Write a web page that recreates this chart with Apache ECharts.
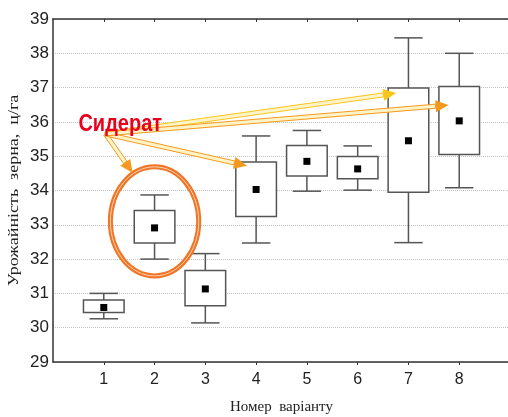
<!DOCTYPE html>
<html>
<head>
<meta charset="utf-8">
<script src="https://cdn.jsdelivr.net/npm/echarts@6/dist/echarts.min.js"></script>
<style>
html, body { margin: 0; padding: 0; background: #fff; }
#chart { width: 508px; height: 417px; }
</style>
</head>
<body>
<div id="chart"></div>
<script>
// номер варіанту та статистики урожайності, ц/га
const variants = [1, 2, 3, 4, 5, 6, 7, 8];
const whiskerLow = [30.26, 32.0, 30.14, 32.47, 33.98, 34.01, 32.48, 34.08];
const boxLow = [30.44, 32.47, 30.64, 33.24, 34.42, 34.34, 33.95, 35.05];
const means = [30.59, 32.91, 31.13, 34.03, 34.85, 34.63, 35.45, 36.03];
const boxHigh = [30.81, 33.42, 31.67, 34.83, 35.31, 34.99, 36.99, 37.03];
const whiskerHigh = [31.0, 33.87, 32.16, 35.59, 35.75, 35.30, 38.45, 38.0];

// підпис "Сидерат" і стрілки (в координатах даних)
const labelText = 'Сидерат';
const labelAt = [0.5, 36.25];
const arrowFrom = [1.03, 35.65];
const arrowTo = [[1.57, 34.51], [3.82, 34.72], [6.76, 36.84], [7.79, 36.49]];
const ellipseAt = [2.0, 33.10];
const yName = 'Урожайність  зерна,  ц/га';

const arrowColors = ['#f39a1e', '#f39a1e', '#f8c51a', '#f39a1e'];

const chart = echarts.init(document.getElementById('chart'));

const boxData = variants.map((v, i) => [v, whiskerLow[i], boxLow[i], means[i], boxHigh[i], whiskerHigh[i]]);

function renderBox(params, api) {
  const x = api.value(0);
  const pWl = api.coord([x, api.value(1)]);
  const pBl = api.coord([x, api.value(2)]);
  const pM = api.coord([x, api.value(3)]);
  const pBh = api.coord([x, api.value(4)]);
  const pWh = api.coord([x, api.value(5)]);
  const half = api.size([0.8, 0])[0] / 2;
  const cap = api.size([0.56, 0])[0] / 2;
  const line = { stroke: '#555', lineWidth: 1.5 };
  return {
    type: 'group',
    children: [
      { type: 'line', shape: { x1: pWh[0], y1: pWh[1], x2: pBh[0], y2: pBh[1] }, style: line },
      { type: 'line', shape: { x1: pBl[0], y1: pBl[1], x2: pWl[0], y2: pWl[1] }, style: line },
      { type: 'line', shape: { x1: pWh[0] - cap, y1: pWh[1], x2: pWh[0] + cap, y2: pWh[1] }, style: line },
      { type: 'line', shape: { x1: pWl[0] - cap, y1: pWl[1], x2: pWl[0] + cap, y2: pWl[1] }, style: line },
      { type: 'rect', shape: { x: pBh[0] - half, y: pBh[1], width: half * 2, height: pBl[1] - pBh[1] },
        style: { fill: '#fff', stroke: '#555', lineWidth: 1.5 } },
      { type: 'rect', shape: { x: pM[0] - 3.5, y: pM[1] - 3.5, width: 7, height: 7 }, style: { fill: '#000' } }
    ]
  };
}

const option = {
  animation: false,
  grid: { left: 53, top: 19, bottom: 55, width: 457, outerBoundsMode: 'none', containLabel: false },
  xAxis: [{
    type: 'value',
    min: 0, max: 9, interval: 1,
    name: 'Номер  варіанту',
    nameLocation: 'middle',
    nameGap: 38,
    nameTextStyle: { fontFamily: 'Liberation Serif', fontSize: 15, color: '#222' },
    axisLine: { show: true, lineStyle: { color: '#333', width: 1.5 } },
    axisTick: { show: true, length: 3, lineStyle: { color: '#333' }, customValues: variants },
    axisLabel: { fontFamily: 'Liberation Sans', fontSize: 16, color: '#222', margin: 10, customValues: variants },
    splitLine: { show: false }
  }, {
    type: 'value',
    position: 'top',
    min: 0, max: 9, interval: 1,
    axisLine: { show: true, lineStyle: { color: '#333', width: 1.5 } },
    axisTick: { show: true, inside: true, length: 3, lineStyle: { color: '#333' }, customValues: variants },
    axisLabel: { show: false },
    splitLine: { show: false }
  }],
  yAxis: {
    type: 'value',
    min: 29, max: 39, interval: 1,
    axisLine: { show: true, lineStyle: { color: '#333', width: 1.5 } },
    axisTick: { show: false },
    axisLabel: { fontFamily: 'Liberation Sans', fontSize: 17, color: '#222', margin: 4 },
    splitLine: { show: true, lineStyle: { color: '#c4c4c4', type: 'dotted', width: 1 } }
  },
  series: [{
    type: 'custom',
    renderItem: renderBox,
    data: boxData,
    encode: { x: 0, y: [1, 2, 3, 4, 5] }
  }]
};

chart.setOption(option);

// стрілка з подвійним контуром
function arrow(p0, p1, color) {
  const dx = p1[0] - p0[0], dy = p1[1] - p0[1];
  const len = Math.sqrt(dx * dx + dy * dy);
  const ux = dx / len, uy = dy / len, nx = -uy, ny = ux;
  const headL = 13, headW = 6, w = 2;
  const bx = p1[0] - ux * headL, by = p1[1] - uy * headL;
  return [{
    type: 'polygon', z: 10,
    shape: { points: [[p0[0] + nx * w, p0[1] + ny * w], [bx + nx * w, by + ny * w], [bx - nx * w, by - ny * w], [p0[0] - nx * w, p0[1] - ny * w]] },
    style: { fill: '#fff3c8', stroke: color, lineWidth: 1 }
  }, {
    type: 'polygon', z: 11,
    shape: { points: [[p1[0], p1[1]], [bx + nx * headW, by + ny * headW], [bx - nx * headW, by - ny * headW]] },
    style: { fill: color }
  }];
}

const toPx = p => chart.convertToPixel({ xAxisIndex: 0, yAxisIndex: 0 }, p);
const from = toPx(arrowFrom);
const c = toPx(ellipseAt);
const rx = chart.convertToPixel({ xAxisIndex: 0 }, ellipseAt[0] + 0.87) - c[0];
const ry = c[1] - chart.convertToPixel({ yAxisIndex: 0 }, ellipseAt[1] + 1.59);

let graphics = [
  { type: 'ellipse', z: 9, shape: { cx: c[0], cy: c[1], rx: rx, ry: ry }, style: { fill: null, stroke: '#f07526', lineWidth: 5 } },
  { type: 'ellipse', z: 9, shape: { cx: c[0], cy: c[1], rx: rx, ry: ry }, style: { fill: null, stroke: '#fcd2b4', lineWidth: 1 } }
];
arrowTo.forEach((t, i) => { graphics = graphics.concat(arrow(from, toPx(t), arrowColors[i])); });
const lp = toPx(labelAt);
graphics.push({
  type: 'text', z: 12, x: lp[0], y: lp[1], scaleY: 1.15,
  style: { text: labelText, fill: '#e8001c', font: 'bold 20px "Liberation Sans"', textVerticalAlign: 'top' }
});
// назва осі Y (витягнута вздовж осі, як в оригіналі)
const axisMid = toPx([0, 34]);
graphics.push({
  type: 'text', x: axisMid[0] - 39, y: axisMid[1], rotation: Math.PI / 2, scaleX: 1.2,
  style: { text: yName, fill: '#222', font: '15px "Liberation Serif"', align: 'center', verticalAlign: 'middle' }
});

chart.setOption({ graphic: graphics });
</script>
</body>
</html>
